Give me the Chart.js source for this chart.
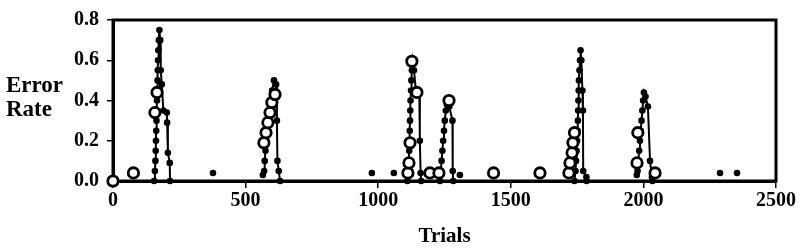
<!DOCTYPE html>
<html>
<head>
<meta charset="utf-8">
<script src="https://cdn.jsdelivr.net/npm/chart.js@4/dist/chart.umd.min.js"></script>
<style>
  html, body { margin: 0; padding: 0; background: #fff; }
  #wrap { position: relative; width: 800px; height: 250px; }
  #yTitle { position: absolute; left: 6px; top: 73px; font: bold 23px "Liberation Serif", "Times New Roman", serif; line-height: 24px; color: #000; }
</style>
</head>
<body>
<div id="wrap">
  <canvas id="c" width="800" height="250"></canvas>
  <div id="yTitle">Error<br>Rate</div>
</div>
<script>
// Filled-dot curve (trial, error rate); null rate breaks the line
const dotTrials = [
  155,158,160,161,162,163,164,165,166,167,168,169,170,171,173,175,178,180,184,190,203,204,207,214,215, 215,
  377, 377,
  565,570,572,575,578,582,586,590,595,600,607,615,618,620,625,630, 630,
  976, 976,
  1059, 1059,
  1110,1113,1115,1117,1118,1119,1120,1121,1122,1124,1125,1127,1130,1135,1142,1155,1157,1160,1162, 1162,
  1233,1236,1239,1242,1245,1248,1251,1255,1259,1264,1268,1280,1281,1283, 1283,
  1308, 1308,
  1740,1744,1746,1748,1750,1752,1753,1754,1755,1756,1757,1759,1761,1763,1766,1770,1772,1773,1785,1786, 1786,
  1975,1978,1981,1984,1987,1990,1993,1996,1999,2002,2008,2017,2025,2032,2034, 2034,
  2289, 2289,
  2353
];
const dotRates = [
  0.00,0.05,0.10,0.15,0.20,0.25,0.30,0.35,0.40,0.45,0.50,0.55,0.60,0.65,0.70,0.75,0.70,0.55,0.48,0.35,0.34,0.29,0.14,0.09,0.00, null,
  0.04, null,
  0.03,0.05,0.10,0.15,0.20,0.25,0.30,0.35,0.40,0.45,0.50,0.48,0.30,0.10,0.05,0.00, null,
  0.04, null,
  0.04, null,
  0.00,0.05,0.10,0.15,0.20,0.25,0.30,0.35,0.40,0.45,0.50,0.55,0.60,0.55,0.45,0.44,0.20,0.04,0.00, null,
  0.00,0.05,0.10,0.15,0.20,0.25,0.30,0.35,0.38,0.39,0.37,0.30,0.05,0.00, null,
  0.03, null,
  0.00,0.05,0.10,0.15,0.20,0.25,0.30,0.35,0.40,0.45,0.50,0.55,0.60,0.65,0.60,0.45,0.35,0.05,0.02,0.00, null,
  0.03,0.05,0.10,0.15,0.20,0.25,0.30,0.35,0.40,0.44,0.42,0.37,0.10,0.02,0.00, null,
  0.04, null,
  0.04
];
// Open circles (trial, error rate)
const circleTrials = [0, 77, 158, 166, 569, 577, 584, 592, 599, 611, 1112, 1116, 1120, 1127, 1146, 1195, 1229, 1267, 1435, 1610, 1719, 1723, 1731, 1734, 1740, 1976, 1979, 2044];
const circleRates  = [0.00, 0.04, 0.34, 0.44, 0.19, 0.24, 0.29, 0.34, 0.39, 0.43, 0.04, 0.09, 0.19, 0.595, 0.44, 0.04, 0.04, 0.40, 0.04, 0.04, 0.04, 0.09, 0.14, 0.19, 0.24, 0.09, 0.24, 0.04];

const xTickValues = [0, 500, 1000, 1500, 2000, 2500];
const yTickValues = [0.0, 0.2, 0.4, 0.6, 0.8];

const dotData = dotTrials.map((t, i) => ({ x: t, y: dotRates[i] }));
const circleData = circleTrials.map((t, i) => ({ x: t, y: circleRates[i] }));

const FONT = '"Liberation Serif", "Times New Roman", serif';

const framePlugin = {
  id: 'frame',
  beforeDatasetsDraw(chart) {
    const { ctx, chartArea: a } = chart;
    ctx.save();
    ctx.strokeStyle = '#000';
    ctx.lineWidth = 3;
    ctx.strokeRect(a.left, a.top, a.right - a.left, a.bottom - a.top);
    ctx.restore();
  }
};

new Chart(document.getElementById('c'), {
  type: 'line',
  data: {
    datasets: [
      {
        label: 'open',
        data: circleData,
        showLine: false,
        pointStyle: 'circle',
        pointRadius: 5.2,
        pointBorderWidth: 2.8,
        pointBackgroundColor: '#fff',
        pointBorderColor: '#000',
        clip: false
      },
      {
        label: 'filled',
        data: dotData,
        borderColor: '#000',
        borderWidth: 2,
        tension: 0,
        spanGaps: false,
        pointStyle: 'circle',
        pointRadius: 3.3,
        pointBorderWidth: 0,
        pointBackgroundColor: '#000',
        clip: false
      }
    ]
  },
  options: {
    responsive: false,
    animation: false,
    events: [],
    layout: { padding: { top: 17, right: 24, left: 0, bottom: 1 } },
    plugins: { legend: { display: false }, tooltip: { enabled: false } },
    scales: {
      x: {
        type: 'linear',
        min: 0, max: 2500,
        afterBuildTicks: s => { s.ticks = xTickValues.map(v => ({ value: v })); },
        afterFit: s => { s.height = 68; },
        grid: { display: true, drawOnChartArea: false, drawTicks: true, tickLength: 7, color: '#000', lineWidth: 1.5 },
        border: { display: true, color: '#000', width: 3 },
        ticks: { color: '#000', font: { family: FONT, size: 20, weight: 'bold' }, padding: 1, maxRotation: 0, callback: v => String(v) },
        title: { display: true, text: 'Trials', color: '#000', font: { family: FONT, size: 21, weight: 'bold' }, padding: { top: 0, bottom: 0 } }
      },
      y: {
        type: 'linear',
        min: 0, max: 0.8,
        afterBuildTicks: s => { s.ticks = yTickValues.map(v => ({ value: v })); },
        afterFit: s => { s.width = 113; },
        grid: { display: true, drawOnChartArea: false, drawTicks: true, tickLength: 6, color: '#000', lineWidth: 1.5 },
        border: { display: true, color: '#000', width: 3 },
        ticks: { color: '#000', font: { family: FONT, size: 20, weight: 'bold' }, padding: 8, callback: v => Number(v).toFixed(1) }
      }
    }
  },
  plugins: [framePlugin]
});
</script>
</body>
</html>
